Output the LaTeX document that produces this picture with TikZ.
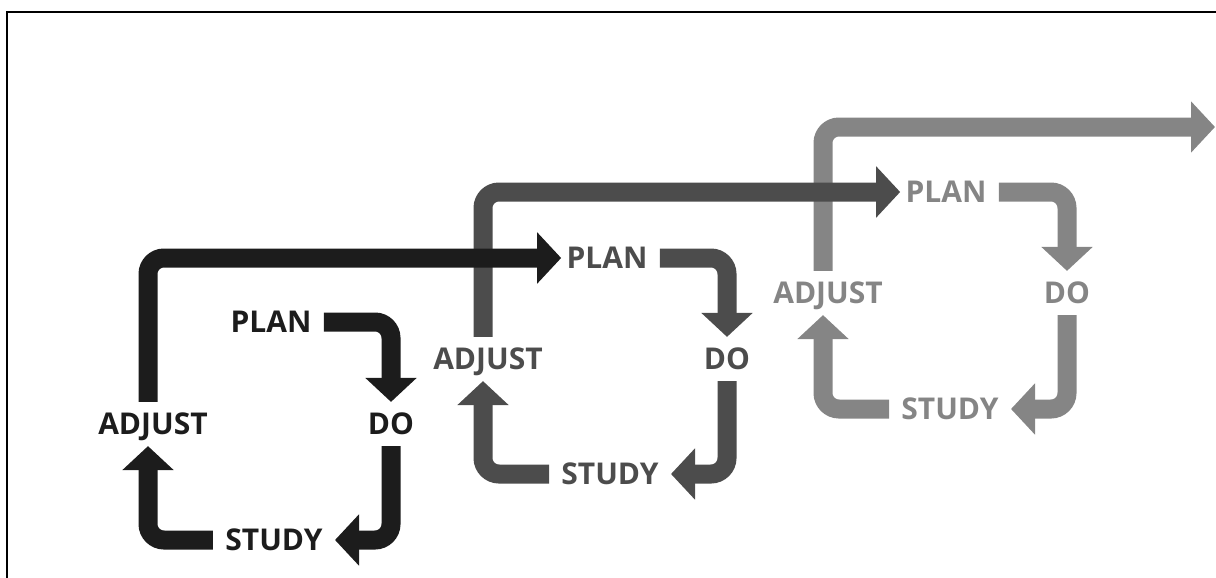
\documentclass[tikz,border=0pt]{standalone}
\usepackage{fontspec}
\newfontfamily\pdsafont{Open Sans}
\usetikzlibrary{arrows.meta}
\definecolor{rcrcrc}{rgb}{0.11,0.11,0.11}
\definecolor{ududud}{rgb}{0.30,0.30,0.30}
\definecolor{yvyvyv}{rgb}{0.52,0.52,0.52}
\begin{document}
\begin{tikzpicture}[line cap=butt,line join=miter,x=0.5pt,y=-0.5pt,
        lbl/.style={font=\pdsafont\bfseries\fontsize{15pt}{15pt}\selectfont,inner xsep=6pt,inner ysep=5.5pt,text height=10.7pt,text depth=0pt},
        band/.style={line width=9.5pt,rounded corners=8pt,-{Triangle[length=12pt,width=25pt]}}]
        \useasboundingbox (0,0) rectangle (1216,578);
        \draw [line width=1pt] (7,578)-- (7,12)-- (1216,12);
        % first cycle
        \node[lbl,text=rcrcrc] (p1) at (271,322) {PLAN};
        \node[lbl,text=rcrcrc] (d1) at (391,424) {DO};
        \node[lbl,text=rcrcrc] (s1) at (274,540) {STUDY};
        \node[lbl,text=rcrcrc] (a1) at (153,424) {ADJUST};
        % second cycle
        \node[lbl,text=ududud] (p2) at (607,258) {PLAN};
        \node[lbl,text=ududud] (d2) at (727,359) {DO};
        \node[lbl,text=ududud] (s2) at (610,474) {STUDY};
        \node[lbl,text=ududud] (a2) at (488,359) {ADJUST};
        % third cycle
        \node[lbl,text=yvyvyv] (p3) at (946,192) {PLAN};
        \node[lbl,text=yvyvyv] (d3) at (1067,293) {DO};
        \node[lbl,text=yvyvyv] (s3) at (950,409) {STUDY};
        \node[lbl,text=yvyvyv] (a3) at (828,293) {ADJUST};
        \coordinate (nx) at (1215,127);
        % arrows, back to front
        \draw [band,yvyvyv] (p3.east) -| (d3.north);
        \draw [band,yvyvyv] (d3.south) |- (s3.east);
        \draw [band,yvyvyv] (s3.west) -| ([xshift=-2.5pt]a3.south);
        \draw [band,yvyvyv] ([xshift=-2.5pt]a3.north) |- (nx);
        \draw [band,ududud] (p2.east) -| (d2.north);
        \draw [band,ududud] (d2.south) |- (s2.east);
        \draw [band,ududud] (s2.west) -| ([xshift=-2.5pt]a2.south);
        \draw [band,ududud] ([xshift=-2.5pt]a2.north) |- ([xshift=3.5pt]p3.west);
        \draw [band,rcrcrc] (p1.east) -| (d1.north);
        \draw [band,rcrcrc] (d1.south) |- (s1.east);
        \draw [band,rcrcrc] (s1.west) -| ([xshift=-2.5pt]a1.south);
        \draw [band,rcrcrc] ([xshift=-2.5pt]a1.north) |- ([xshift=3.5pt]p2.west);
\end{tikzpicture}
\end{document}
